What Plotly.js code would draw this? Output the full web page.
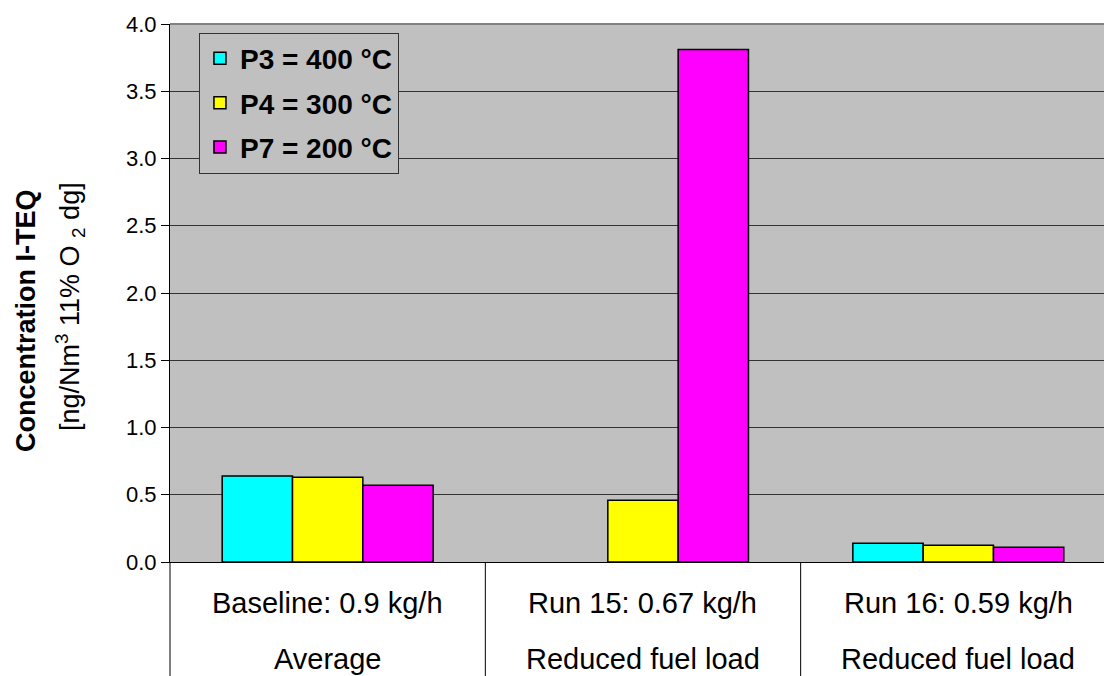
<!DOCTYPE html>
<html>
<head>
<meta charset="utf-8">
<script src="https://cdn.plot.ly/plotly-3.0.1.min.js"></script>
<style>html,body{margin:0;padding:0;background:#fff;}#chart{width:1104px;height:676px;}</style>
</head>
<body>
<div id="chart"></div>
<script>
var categories = ["Baseline", "Run 15", "Run 16"];
var labelLine1 = ["Baseline: 0.9 kg/h", "Run 15: 0.67 kg/h", "Run 16: 0.59 kg/h"];
var labelLine2 = ["Average", "Reduced fuel load", "Reduced fuel load"];
var seriesNames = ["P3 = 400 °C", "P4 = 300 °C", "P7 = 200 °C"];
var p3Values = [0.64, null, 0.14];
var p4Values = [0.63, 0.46, 0.125];
var p7Values = [0.57, 3.81, 0.11];
var yTickVals = [0, 0.5, 1, 1.5, 2, 2.5, 3, 3.5, 4];
var yTickText = ["0.0", "0.5", "1.0", "1.5", "2.0", "2.5", "3.0", "3.5", "4.0"];

var FONT = "Liberation Sans, Arial, sans-serif";
var colors = ["#00ffff", "#ffff00", "#ff00ff"];
var seriesValues = [p3Values, p4Values, p7Values];

var traces = seriesValues.map(function (vals, i) {
  return {
    type: "bar",
    name: seriesNames[i],
    legendgroup: "g" + i,
    x: categories,
    y: vals,
    marker: { color: colors[i], line: { color: "#000", width: 1.5 } },
    hoverinfo: "skip"
  };
});

var annotations = [];
categories.forEach(function (c, i) {
  annotations.push({
    xref: "x", yref: "paper", x: c, y: -0.0762, xanchor: "center", yanchor: "middle",
    text: labelLine1[i], showarrow: false, font: { family: FONT, size: 29, color: "#000" }
  });
  annotations.push({
    xref: "x", yref: "paper", x: c, y: -0.1795, xanchor: "center", yanchor: "middle",
    text: labelLine2[i], showarrow: false, font: { family: FONT, size: 29, color: "#000" }
  });
});
annotations.push({
  xref: "paper", yref: "paper", x: -0.1542, y: 0.4498, xanchor: "center", yanchor: "middle",
  textangle: -90, text: "<b>Concentration I-TEQ</b>", showarrow: false,
  font: { family: FONT, size: 27, color: "#000" }
});
annotations.push({
  xref: "paper", yref: "paper", x: -0.1071, y: 0.4758, xanchor: "center", yanchor: "middle",
  textangle: -90, text: "[ng/Nm<sup>3</sup> 11% O <sub>2</sub> dg]", showarrow: false,
  font: { family: FONT, size: 27, color: "#000" }
});

var shapes = [
  { type: "line", xref: "paper", yref: "paper", x0: 0, x1: 1, y0: 1, y1: 1, line: { color: "#808080", width: 2 } },
  { type: "line", xref: "paper", yref: "paper", x0: 0, x1: 0, y0: 0, y1: -0.3, line: { color: "#000", width: 1 } },
  { type: "line", xref: "x", yref: "paper", x0: 0.5, x1: 0.5, y0: 0, y1: -0.3, line: { color: "#000", width: 1 } },
  { type: "line", xref: "x", yref: "paper", x0: 1.5, x1: 1.5, y0: 0, y1: -0.3, line: { color: "#000", width: 1 } }
];

var layout = {
  width: 1104, height: 676,
  margin: { l: 170, r: 0, t: 24, b: 114, pad: 0 },
  paper_bgcolor: "#ffffff",
  plot_bgcolor: "#c0c0c0",
  barmode: "group",
  bargap: 0.331,
  bargroupgap: 0,
  showlegend: true,
  legend: {
    x: 0.031, y: 0.984, xanchor: "left", yanchor: "top",
    bgcolor: "#c0c0c0", bordercolor: "#333", borderwidth: 1,
    font: { family: FONT, size: 28, color: "#000", weight: "bold" },
    tracegroupgap: 5
  },
  xaxis: {
    type: "category",
    range: [-0.5, 2.462],
    showticklabels: false, ticks: "",
    showline: true, linecolor: "#000", linewidth: 1,
    showgrid: false, zeroline: false, fixedrange: true
  },
  yaxis: {
    range: [0, 4],
    tickvals: yTickVals, ticktext: yTickText,
    ticks: "outside", ticklen: 8, tickcolor: "#000", tickwidth: 1,
    tickfont: { family: FONT, size: 22, color: "#000" },
    showline: true, linecolor: "#000", linewidth: 1,
    showgrid: true, gridcolor: "#333", gridwidth: 1,
    zeroline: false, fixedrange: true
  },
  annotations: annotations,
  shapes: shapes
};

Plotly.newPlot("chart", traces, layout, { displayModeBar: false, staticPlot: true });
</script>
</body>
</html>
